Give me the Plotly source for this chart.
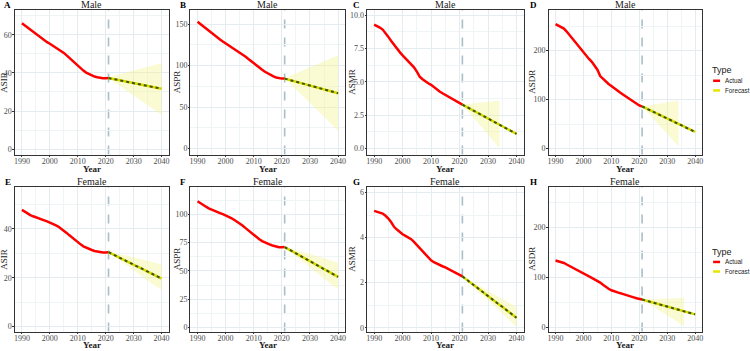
import plotly.graph_objects as go

# ---------------- data ----------------
years_actual = list(range(1990, 2022))
years_forecast = list(range(2021, 2041))
x_ticks = [1990, 2000, 2010, 2020, 2030, 2040]

# Male
male_asir_actual = [66.0, 64.9, 63.8, 62.7, 61.6, 60.4, 59.2, 58.1, 57.0, 56.1, 55.3, 54.4, 53.5, 52.6, 51.6, 50.5,
                    49.2, 47.8, 46.4, 45.0, 43.7, 42.4, 41.2, 40.2, 39.4, 38.7, 38.1, 37.7, 37.4, 37.2, 37.2, 37.3]
male_asir_forecast = [37.3, 37.0, 36.7, 36.4, 36.1, 35.8, 35.5, 35.2, 34.9, 34.6, 34.3, 34.0, 33.7, 33.4, 33.1,
                      32.9, 32.6, 32.3, 32.0, 31.7]
male_asir_upper = [37.3, 38.0, 38.5, 38.9, 39.3, 39.7, 40.0, 40.4, 40.7, 41.1, 41.5, 41.9, 42.3, 42.6, 43.0, 43.4,
                   43.8, 44.2, 44.7, 45.2]
male_asir_lower = [37.3, 36.0, 34.9, 33.9, 32.9, 31.9, 30.9, 29.9, 28.9, 27.9, 26.9, 25.9, 24.9, 23.9, 22.9, 21.9,
                   20.9, 19.9, 18.9, 17.9]

male_aspr_actual = [152.8, 150.0, 147.3, 144.6, 141.9, 139.3, 136.6, 134.0, 131.5, 129.1, 126.8, 124.6, 122.4, 120.2,
                    118.3, 116.3, 113.8, 111.0, 108.2, 105.4, 102.8, 100.1, 97.5, 95.0, 92.6, 90.5, 88.6, 86.9, 85.7,
                    84.8, 84.3, 84.3]
male_aspr_forecast = [84.3, 83.4, 82.5, 81.5, 80.6, 79.7, 78.7, 77.8, 76.9, 76.0, 75.0, 74.1, 73.2, 72.3, 71.3, 70.4,
                      69.5, 68.6, 67.6, 66.7]
male_aspr_upper = [84.3, 86.0, 87.5, 89.0, 90.5, 92.0, 93.5, 95.0, 96.5, 98.0, 99.5, 101.0, 102.5, 104.0, 105.5,
                   107.0, 108.5, 110.0, 111.0, 112.0]
male_aspr_lower = [84.3, 81.0, 77.8, 74.6, 71.4, 68.2, 65.0, 61.8, 58.5, 55.2, 51.9, 48.6, 45.3, 42.0, 38.7, 35.4,
                   32.0, 28.5, 24.8, 21.0]

male_asmr_actual = [9.30, 9.20, 9.08, 8.93, 8.68, 8.38, 8.08, 7.78, 7.50, 7.24, 7.00, 6.78, 6.58, 6.40, 6.10, 5.77,
                    5.40, 5.20, 5.03, 4.90, 4.78, 4.60, 4.42, 4.28, 4.15, 4.03, 3.89, 3.75, 3.62, 3.49, 3.37, 3.30]
male_asmr_forecast = [3.30, 3.18, 3.07, 2.95, 2.84, 2.72, 2.61, 2.49, 2.37, 2.26, 2.14, 2.03, 1.91, 1.80, 1.68, 1.56,
                      1.45, 1.33, 1.22, 1.10]
male_asmr_upper = [3.30, 3.33, 3.35, 3.37, 3.39, 3.41, 3.43, 3.45, 3.47, 3.49, 3.51, 3.53, 3.55, 3.58]
male_asmr_lower = [3.30, 3.05, 2.80, 2.55, 2.30, 2.05, 1.80, 1.55, 1.30, 1.05, 0.80, 0.55, 0.30, 0.05]

male_asdr_actual = [254, 251, 248, 245, 239, 232, 224, 216, 209, 202, 195, 189, 183, 177, 170, 161, 148, 142, 137,
                    132, 128, 123, 119, 115, 111, 107, 103, 99, 95, 91, 88, 86]
male_asdr_forecast = [86.0, 83.3, 80.5, 77.8, 75.1, 72.3, 69.6, 66.8, 64.1, 61.4, 58.6, 55.9, 53.2, 50.4, 47.7, 44.9,
                      42.2, 39.5, 36.7, 34.0]
male_asdr_upper = [86, 87, 88, 89, 90, 91, 92, 93, 94, 95, 96, 97, 97.5, 98]
male_asdr_lower = [86, 79.8, 73.5, 67.3, 61.1, 54.8, 48.6, 42.4, 36.2, 29.9, 23.7, 17.5, 11.2, 5.0]

# Female
female_asir_actual = [47.8, 47.0, 46.3, 45.7, 45.2, 44.7, 44.3, 43.9, 43.5, 43.1, 42.7, 42.2, 41.6, 41.0, 40.2, 39.3,
                      38.4, 37.4, 36.4, 35.5, 34.6, 33.7, 32.9, 32.3, 31.8, 31.4, 31.0, 30.7, 30.5, 30.4, 30.4, 30.5]
female_asir_forecast = [30.5, 29.9, 29.4, 28.8, 28.2, 27.7, 27.1, 26.5, 26.0, 25.4, 24.8, 24.3, 23.7, 23.1, 22.5,
                        22.0, 21.4, 20.8, 20.3, 19.7]
female_asir_upper = [30.5, 30.3, 30.1, 29.9, 29.7, 29.5, 29.2, 29.0, 28.7, 28.4, 28.2, 27.9, 27.6, 27.4, 27.1, 26.8,
                     26.5, 26.2, 25.9, 25.5]
female_asir_lower = [30.5, 29.6, 28.8, 28.0, 27.2, 26.4, 25.6, 24.8, 24.0, 23.2, 22.3, 21.5, 20.6, 19.8, 18.9, 18.1,
                     17.2, 16.4, 15.7, 15.0]

female_aspr_actual = [111.4, 109.6, 108.0, 106.6, 105.2, 104.0, 103.0, 102.0, 101.0, 100.0, 99.0, 97.8, 96.5, 95.1,
                      93.6, 92.0, 90.0, 87.9, 85.8, 83.7, 81.6, 79.7, 77.9, 76.3, 75.0, 74.0, 73.0, 72.1, 71.3, 70.8,
                      70.8, 71.0]
female_aspr_forecast = [71.0, 69.6, 68.2, 66.8, 65.5, 64.1, 62.7, 61.3, 59.9, 58.5, 57.2, 55.8, 54.4, 53.0, 51.6,
                        50.2, 48.9, 47.5, 46.1, 44.7]
female_aspr_upper = [71.0, 70.4, 69.8, 69.1, 68.5, 67.8, 67.1, 66.4, 65.7, 65.0, 64.2, 63.5, 62.7, 61.9, 61.1, 60.3,
                     59.5, 58.7, 58.0, 57.2]
female_aspr_lower = [71.0, 69.0, 67.1, 65.2, 63.3, 61.4, 59.5, 57.6, 55.6, 53.6, 51.6, 49.6, 47.6, 45.5, 43.4, 41.3,
                     39.3, 37.2, 35.8, 34.5]

female_asmr_actual = [5.19, 5.14, 5.12, 5.07, 4.97, 4.85, 4.68, 4.48, 4.36, 4.25, 4.15, 4.08, 4.01, 3.93, 3.81, 3.67,
                      3.52, 3.37, 3.23, 3.10, 2.99, 2.91, 2.84, 2.79, 2.73, 2.68, 2.62, 2.56, 2.50, 2.43, 2.35, 2.28]
female_asmr_forecast = [2.28, 2.18, 2.09, 1.99, 1.89, 1.80, 1.70, 1.60, 1.51, 1.41, 1.31, 1.22, 1.12, 1.02, 0.93,
                        0.83, 0.73, 0.64, 0.54, 0.44]
female_asmr_upper = [2.28, 2.21, 2.14, 2.06, 1.99, 1.92, 1.85, 1.78, 1.71, 1.64, 1.56, 1.49, 1.42, 1.35, 1.28, 1.21,
                     1.14, 1.06, 0.99, 0.92]
female_asmr_lower = [2.28, 2.16, 2.04, 1.93, 1.81, 1.69, 1.57, 1.45, 1.34, 1.22, 1.10, 0.98, 0.86, 0.75, 0.63, 0.51,
                     0.39, 0.27, 0.16, 0.04]

female_asdr_actual = [134.0, 132.8, 131.5, 129.0, 126.0, 122.8, 119.6, 116.5, 113.4, 110.4, 107.5, 104.8, 102.1, 99.4,
                      96.7, 94.0, 89.8, 85.5, 81.0, 77.6, 74.5, 72.3, 70.4, 68.9, 67.4, 66.0, 64.3, 62.3, 60.3, 58.5,
                      57.0, 56.0]
female_asdr_forecast = [56.0, 54.4, 52.9, 51.3, 49.7, 48.2, 46.6, 45.1, 43.5, 41.9, 40.4, 38.8, 37.2, 35.7, 34.1,
                        32.6, 31.0, 29.4, 27.9, 26.3]
female_asdr_upper = [56.0, 56.2, 56.4, 56.6, 56.8, 57.0, 57.2, 57.4, 57.6, 57.8, 58.0, 58.2, 58.4, 58.6, 58.8, 59.0]
female_asdr_lower = [56.0, 52.5, 48.9, 45.4, 41.9, 38.3, 34.8, 31.3, 27.7, 24.2, 20.7, 17.1, 13.6, 10.1, 6.5, 3.0]

panels = [
    dict(letter="A", sex="Male", ytitle="ASIR", actual=male_asir_actual, forecast=male_asir_forecast,
         upper=male_asir_upper, lower=male_asir_lower, yrange=[-2.8, 73], dtick=20, fmt="d"),
    dict(letter="B", sex="Male", ytitle="ASPR", actual=male_aspr_actual, forecast=male_aspr_forecast,
         upper=male_aspr_upper, lower=male_aspr_lower, yrange=[-7.2, 167], dtick=50, fmt="d"),
    dict(letter="C", sex="Male", ytitle="ASMR", actual=male_asmr_actual, forecast=male_asmr_forecast,
         upper=male_asmr_upper, lower=male_asmr_lower, yrange=[-0.45, 10.4], dtick=2.5, fmt=".1f"),
    dict(letter="D", sex="Male", ytitle="ASDR", actual=male_asdr_actual, forecast=male_asdr_forecast,
         upper=male_asdr_upper, lower=male_asdr_lower, yrange=[-12.2, 283], dtick=100, fmt="d"),
    dict(letter="E", sex="Female", ytitle="ASIR", actual=female_asir_actual, forecast=female_asir_forecast,
         upper=female_asir_upper, lower=female_asir_lower, yrange=[-2.0, 57.2], dtick=20, fmt="d"),
    dict(letter="F", sex="Female", ytitle="ASPR", actual=female_aspr_actual, forecast=female_aspr_forecast,
         upper=female_aspr_upper, lower=female_aspr_lower, yrange=[-3.5, 124], dtick=25, fmt="d"),
    dict(letter="G", sex="Female", ytitle="ASMR", actual=female_asmr_actual, forecast=female_asmr_forecast,
         upper=female_asmr_upper, lower=female_asmr_lower, yrange=[-0.17, 6.25], dtick=2, fmt="d"),
    dict(letter="H", sex="Female", ytitle="ASDR", actual=female_asdr_actual, forecast=female_asdr_forecast,
         upper=female_asdr_upper, lower=female_asdr_lower, yrange=[-8.0, 281], dtick=100, fmt="d"),
]

# ---------------- layout geometry (pixels) ----------------
W, H = 750, 351
col_px = [(14, 168), (190, 345), (367, 524), (549, 703)]
row_px = [(10, 155), (187.5, 332.5)]
letter_x = [7, 182, 356, 534]
ytitle_x = [3.5, 176.5, 352.5, 533]
year_y = [169.5, 346.3]

SERIF = "Liberation Serif"
SANS = "Liberation Sans"
AX_COL = "#333333"
GRID = "#E4ECEF"
GRID_MINOR = "#EFF4F5"

def px(x):
    return x / W

def py(y):
    return 1 - y / H

fig = go.Figure()
layout = {}
annotations = []
shapes = []

for i, p in enumerate(panels):
    n = i + 1
    r, c = divmod(i, 4)
    xa = "x" if n == 1 else f"x{n}"
    ya = "y" if n == 1 else f"y{n}"
    xkey = "xaxis" if n == 1 else f"xaxis{n}"
    ykey = "yaxis" if n == 1 else f"yaxis{n}"
    x0, x1 = col_px[c]
    y0, y1 = row_px[r]

    yrs_band = years_forecast[:len(p["upper"])]
    fig.add_trace(go.Scatter(x=yrs_band + yrs_band[::-1], y=p["upper"] + p["lower"][::-1],
                             fill="toself", fillcolor="rgba(242,244,150,0.42)", line=dict(width=0),
                             mode="lines", hoverinfo="skip", showlegend=False, xaxis=xa, yaxis=ya))
    fig.add_trace(go.Scatter(x=years_actual, y=p["actual"], mode="lines",
                             line=dict(color="#FF0000", width=2.5), showlegend=False, xaxis=xa, yaxis=ya))
    fig.add_trace(go.Scatter(x=years_forecast, y=p["forecast"], mode="lines",
                             line=dict(color="#D8D800", width=2.5), showlegend=False, xaxis=xa, yaxis=ya))
    fig.add_trace(go.Scatter(x=years_forecast, y=p["forecast"], mode="lines",
                             line=dict(color="#3A5500", width=2, dash="dot"), showlegend=False,
                             xaxis=xa, yaxis=ya))

    shapes.append(dict(type="line", xref=xa, yref=f"{ya} domain", x0=2021, x1=2021, y0=0, y1=1,
                       line=dict(color="#A9BEC7", width=1.6, dash="dash"), layer="below"))

    layout[xkey] = dict(domain=[px(x0), px(x1)], anchor=ya, range=[1987.5, 2042.5],
                        tickvals=x_ticks, ticks="outside", ticklen=1.5, tickcolor=AX_COL, tickwidth=1,
                        ticklabelstandoff=-3,
                        tickfont=dict(family=SERIF, size=8, color="#4D4D4D"),
                        showgrid=True, gridcolor=GRID, gridwidth=0.8,
                        minor=dict(tickvals=[1995, 2005, 2015, 2025, 2035], showgrid=True,
                                   gridcolor=GRID_MINOR, gridwidth=0.6),
                        showline=True, mirror=True, linecolor=AX_COL, linewidth=1, zeroline=False)
    layout[ykey] = dict(domain=[py(y1), py(y0)], anchor=xa, range=p["yrange"],
                        tick0=0, dtick=p["dtick"], tickformat=p["fmt"], ticks="outside", ticklen=1.5,
                        tickcolor=AX_COL, tickwidth=1, ticklabelstandoff=-1,
                        tickfont=dict(family=SERIF, size=8, color="#4D4D4D"),
                        showgrid=True, gridcolor=GRID, gridwidth=0.8,
                        minor=dict(tick0=p["dtick"] / 2, dtick=p["dtick"], showgrid=True,
                                   gridcolor=GRID_MINOR, gridwidth=0.6),
                        showline=True, mirror=True, linecolor=AX_COL, linewidth=1, zeroline=False)

    # strip title
    annotations.append(dict(text=p["sex"], x=px((x0 + x1) / 2), y=py(y0 - 5), xref="paper", yref="paper",
                            showarrow=False, xanchor="center", yanchor="middle",
                            font=dict(family=SERIF, size=10, color="#1A1A1A")))
    # panel letter
    annotations.append(dict(text=f"<b>{p['letter']}</b>", x=px(letter_x[c]), y=py(y0 - 5), xref="paper",
                            yref="paper", showarrow=False, xanchor="center", yanchor="middle",
                            font=dict(family=SERIF, size=9, color="#000000")))
    # y title
    annotations.append(dict(text=p["ytitle"], x=px(ytitle_x[c]), y=py((y0 + y1) / 2), xref="paper",
                            yref="paper", showarrow=False, xanchor="center", yanchor="middle", textangle=-90,
                            font=dict(family=SERIF, size=9, color="#1A1A1A")))
    # x title
    annotations.append(dict(text="<b>Year</b>", x=px((x0 + x1) / 2), y=py(year_y[r]), xref="paper",
                            yref="paper", showarrow=False, xanchor="center", yanchor="middle",
                            font=dict(family=SERIF, size=9, color="#1A1A1A")))

# manual legends (one per row)
for ty, ay, fy in [(70.7, 81, 90.7), (252.3, 262.7, 272.3)]:
    annotations.append(dict(text="Type", x=px(711), y=py(ty), xref="paper", yref="paper", showarrow=False,
                            xanchor="left", yanchor="middle", font=dict(family=SANS, size=9, color="#1A1A1A")))
    shapes.append(dict(type="line", xref="paper", yref="paper", x0=px(714), x1=px(721), y0=py(ay), y1=py(ay),
                       line=dict(color="#FF0000", width=2.5)))
    shapes.append(dict(type="line", xref="paper", yref="paper", x0=px(714), x1=px(721), y0=py(fy), y1=py(fy),
                       line=dict(color="#E6E600", width=2.5)))
    annotations.append(dict(text="Actual", x=px(724), y=py(ay), xref="paper", yref="paper", showarrow=False,
                            xanchor="left", yanchor="middle", font=dict(family=SANS, size=6.3, color="#1A1A1A")))
    annotations.append(dict(text="Forecast", x=px(724), y=py(fy), xref="paper", yref="paper", showarrow=False,
                            xanchor="left", yanchor="middle", font=dict(family=SANS, size=6.3, color="#1A1A1A")))

fig.update_layout(width=W, height=H, margin=dict(l=0, r=0, t=0, b=0), paper_bgcolor="white",
                  plot_bgcolor="white", showlegend=False, annotations=annotations, shapes=shapes, **layout)

fig.write_html("out.html", config={"displayModeBar": False},
               post_script="document.body.style.margin='0';document.body.style.overflow='hidden';")
